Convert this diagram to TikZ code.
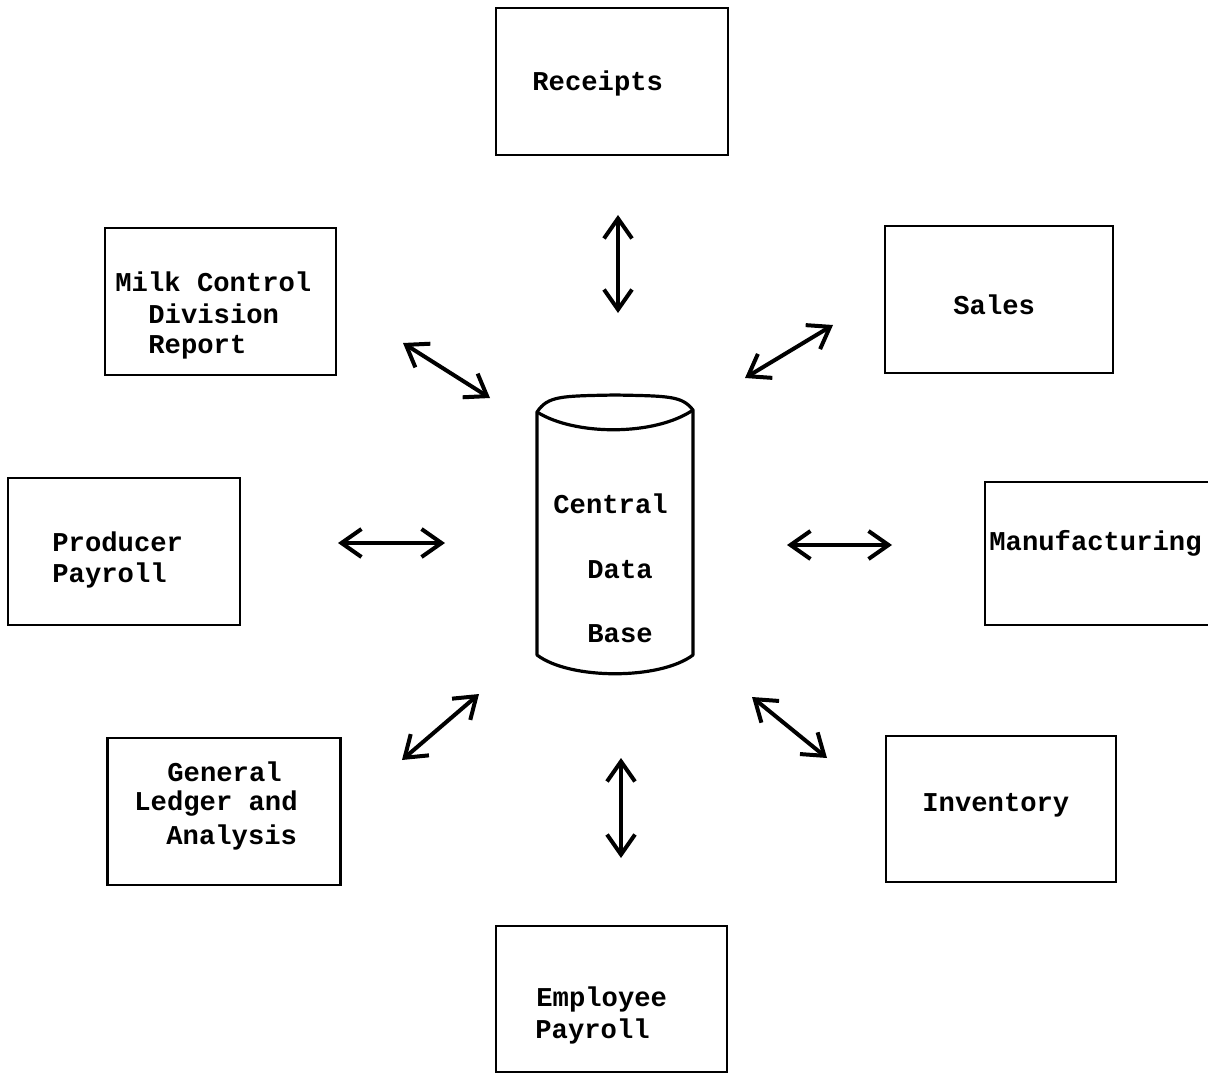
\documentclass[tikz,border=0pt]{standalone}
\usepackage{fontspec}
\setmainfont{Liberation Mono}
\usetikzlibrary{arrows.meta}
\begin{document}
\begin{tikzpicture}[x=0.5pt,y=-0.5pt,
  box/.style={draw,line width=1.4pt,inner sep=0pt},
  lbl/.style={anchor=west,inner sep=0pt,font=\bfseries\fontsize{13.6}{16}\selectfont},
  link/.style={line width=2pt,
    {Straight Barb[length=10pt,width=14pt,line width=2pt]}-{Straight Barb[length=10pt,width=14pt,line width=2pt]}}]
\useasboundingbox (0,0) rectangle (1208,1075);
\fill[white] (0,0) rectangle (1208,1075);

% boxes
\node[box,minimum width=116pt,minimum height=73.5pt] (rec) at (612,81.5) {};
\node[box,minimum width=115.5pt,minimum height=73.5pt] (milk) at (220.5,301.5) {};
\node[box,minimum width=114pt,minimum height=73.5pt] (sales) at (999,299.5) {};
\node[box,minimum width=116pt,minimum height=73.5pt] (prod) at (124,551.5) {};
\node[box,minimum width=116.5pt,minimum height=73.5pt] (gl) at (224,811.5) {};
\node[box,minimum width=115pt,minimum height=73pt] (inv) at (1001,809) {};
\node[box,minimum width=115.5pt,minimum height=73pt] (emp) at (611.5,999) {};
% manufacturing box (open to the right, runs off the page)
\coordinate (mtr) at (1214,482);
\coordinate (mtl) at (985,482);
\coordinate (mbl) at (985,625);
\coordinate (mbr) at (1214,625);
\draw[line width=1.4pt] (mtr) -- (mtl) -- (mbl) -- (mbr);

% central data base cylinder
\draw[line width=1.6pt,line join=round]
  (537,412) .. controls (548,396) and (560,396) .. (615,395)
  .. controls (670,396) and (682,396) .. (693,410)
  -- (693,655)
  .. controls (660,680) and (570,680) .. (537,655)
  -- cycle;
\draw[line width=1.6pt] (537,412) .. controls (575,436) and (655,436) .. (693,410);
\coordinate (db) at (615,540);

% labels
\node[lbl] (t1) at (532,83) {Receipts};
\node[lbl] (t2) at (115,282) {Milk Control};
\node[lbl] (t3) at (148,314) {Division};
\node[lbl] (t4) at (148,347) {Report};
\node[lbl] (t5) at (953,305) {Sales};
\node[lbl] (t6) at (52,542) {Producer};
\node[lbl] (t7) at (52,575) {Payroll};
\node[lbl] (t8) at (989,543) {Manufacturing};
\node[lbl] (t9) at (553,504) {Central};
\node[lbl] (t10) at (587,570) {Data};
\node[lbl] (t11) at (587,634) {Base};
\node[lbl] (t12) at (167,772) {General};
\node[lbl] (t13) at (134,804) {Ledger and};
\node[lbl] (t14) at (166,837) {Analysis};
\node[lbl] (t15) at (922,805) {Inventory};
\node[lbl] (t16) at (536,999) {Employee};
\node[lbl] (t17) at (535,1031) {Payroll};

% arrow end points
\coordinate (a1) at (618,215);  \coordinate (b1) at (618,313);
\coordinate (a2) at (403,343);  \coordinate (b2) at (490,398);
\coordinate (a3) at (833,325);  \coordinate (b3) at (745,378);
\coordinate (a4) at (338,543);  \coordinate (b4) at (445,543);
\coordinate (a5) at (892,545);  \coordinate (b5) at (787,545);
\coordinate (a6) at (402,760);  \coordinate (b6) at (479,694);
\coordinate (a7) at (827,758);  \coordinate (b7) at (752,697);
\coordinate (a8) at (621,858);  \coordinate (b8) at (621,758);

\draw[link] (a1) -- (b1);
\draw[link] (a2) -- (b2);
\draw[link] (a3) -- (b3);
\draw[link] (a4) -- (b4);
\draw[link] (a5) -- (b5);
\draw[link] (a6) -- (b6);
\draw[link] (a7) -- (b7);
\draw[link] (a8) -- (b8);
\end{tikzpicture}
\end{document}
